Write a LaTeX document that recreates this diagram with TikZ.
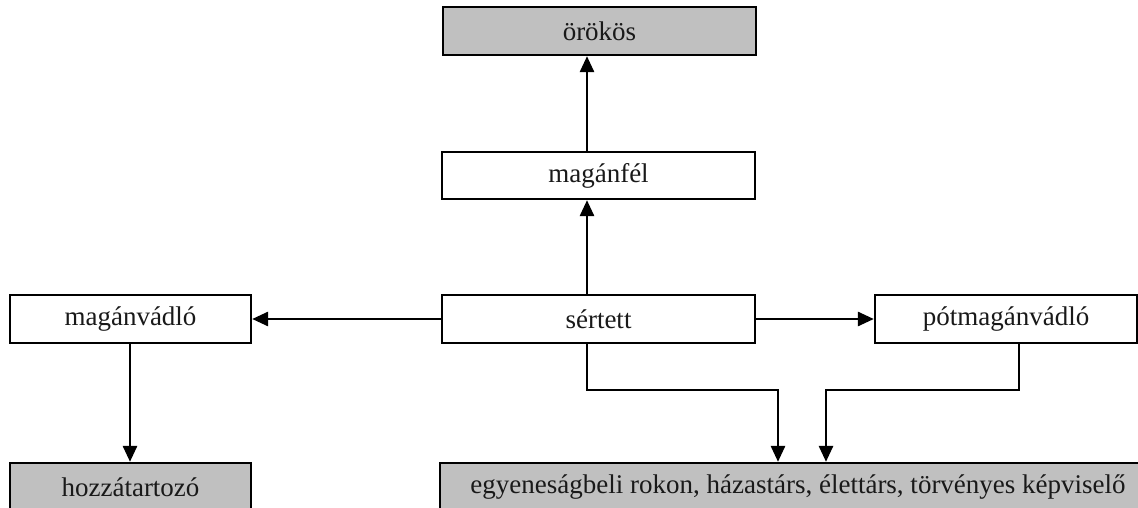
\documentclass[tikz,border=0pt]{standalone}
\usepackage{fontspec}
\setmainfont{Liberation Serif}
\usetikzlibrary{arrows.meta,calc}
\begin{document}
\begin{tikzpicture}[x=1pt,y=-1pt,
  box/.style={draw=black,line width=2.3pt,rectangle,inner sep=0pt,minimum height=48pt,font=\fontsize{27}{32}\selectfont,text=black!90},
  plain/.style={box,fill=white},
  grey/.style={box,fill={rgb,255:red,192;green,192;blue,192}},
  arr/.style={line width=2.8pt,-{Triangle[length=16pt,width=14pt]}}]
\useasboundingbox (0,0) rectangle (1138,508);
\clip (0,0) rectangle (1138,508);
\node[grey,minimum width=313pt] (orokos) at (599.5,31) {örökös};
\node[plain,minimum width=313pt,minimum height=47pt] (maganfel) at (598.5,175.5) {magánfél};
\node[plain,minimum width=313pt] (sertett) at (598.5,319) {sértett};
\node[plain,minimum width=241pt] (maganvadlo) at (130.5,319) {magánvádló};
\node[plain,minimum width=262pt] (pot) at (1006,319) {pótmagánvádló};
\node[grey,minimum width=241pt] (hozza) at (130.5,487) {hozzátartozó};
\node[grey,minimum width=716pt] (egyen) at (798,487) {egyeneságbeli rokon, házastárs, élettárs, törvényes képviselő};
\coordinate (ax) at (587,0);
\coordinate (lx) at (130,0);
\coordinate (c1) at (778,390);
\coordinate (c2) at (826,390);
\coordinate (px) at (1019,0);
\draw[arr] (maganfel.north -| ax) -- (orokos.south -| ax);
\draw[arr] (sertett.north -| ax) -- (maganfel.south -| ax);
\draw[arr] (sertett.west) -- (maganvadlo.east);
\draw[arr] (sertett.east) -- (pot.west);
\draw[arr] (maganvadlo.south -| lx) -- (hozza.north -| lx);
\draw[arr] (sertett.south -| ax) |- (c1) -- (egyen.north -| c1);
\draw[arr] (pot.south -| px) |- (c2) -- (egyen.north -| c2);
\end{tikzpicture}
\end{document}
